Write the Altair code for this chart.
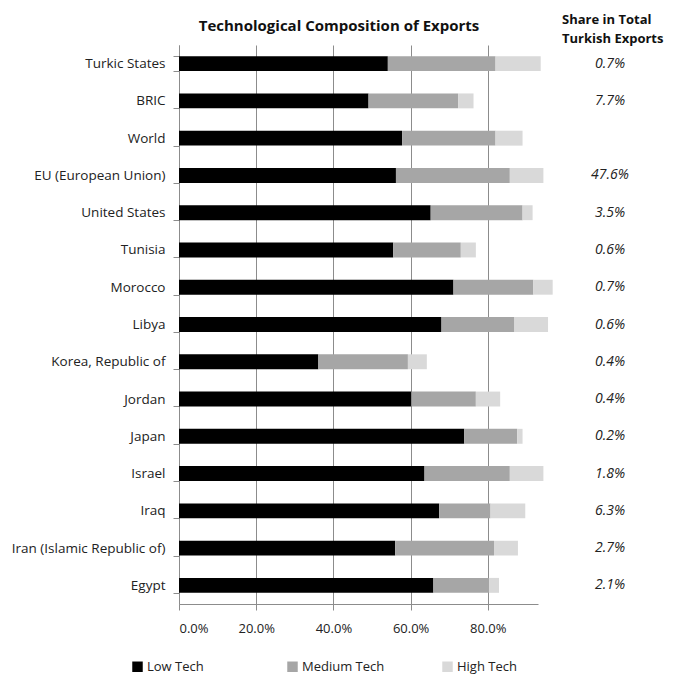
import altair as alt
import pandas as pd

countries = ["Turkic States", "BRIC", "World", "EU (European Union)", "United States",
             "Tunisia", "Morocco", "Libya", "Korea, Republic of", "Jordan", "Japan",
             "Israel", "Iraq", "Iran (Islamic  Republic of)", "Egypt"]
low_tech = [54.1, 49.1, 57.8, 56.2, 65.2, 55.5, 71.1, 68.0, 36.1, 60.2, 73.9, 63.6, 67.4, 56.0, 65.9]
medium_tech = [27.9, 23.2, 24.2, 29.5, 23.8, 17.5, 20.7, 18.9, 23.2, 16.7, 13.7, 22.1, 13.3, 25.6, 14.5]
high_tech = [11.7, 4.0, 7.0, 8.7, 2.6, 3.9, 5.0, 8.7, 4.9, 6.3, 1.4, 8.7, 9.0, 6.2, 2.5]
share_in_turkish_exports = [0.7, 7.7, None, 47.6, 3.5, 0.6, 0.7, 0.6, 0.4, 0.4, 0.2, 1.8, 6.3, 2.7, 2.1]
series = ["Low Tech", "Medium Tech", "High Tech"]
colors = ["#000000", "#a6a6a6", "#d9d9d9"]
x_ticks = [0, 0.2, 0.4, 0.6, 0.8]
title_text = "Technological Composition of Exports"
header_text = "Share in Total\nTurkish Exports"

rows = []
for i, c in enumerate(countries):
    for k, (s, vals) in enumerate(zip(series, [low_tech, medium_tech, high_tech])):
        rows.append({"country": c, "series": s, "order": k, "value": vals[i] / 100})
df = pd.DataFrame(rows)

share_df = pd.DataFrame({"country": countries, "share": share_in_turkish_exports}).dropna()
share_df["label"] = share_df["share"].map(lambda v: f"{v:.1f}%")

text_df = pd.DataFrame({"title": [title_text], "header": [header_text]})

FONT = "Open Sans"
W, H = 359, 559

y_enc = alt.Y("country:N", sort=countries,
              scale=alt.Scale(paddingInner=0.6, paddingOuter=0.3),
              axis=alt.Axis(title=None, tickBand="extent", tickSize=6, tickColor="#8c8c8c",
                            domainColor="#8c8c8c", labelFont=FONT, labelFontSize=13.5,
                            labelColor="#222222", labelPadding=8, grid=False, labelLimit=300))

bars = alt.Chart(df).mark_bar().encode(
    x=alt.X("value:Q", stack="zero",
            scale=alt.Scale(domain=[0, 0.93], nice=False),
            axis=alt.Axis(title=None, format=".1%", values=x_ticks, grid=True,
                          gridColor="#8c8c8c", tickSize=6, tickColor="#8c8c8c",
                          domainColor="#8c8c8c", labelFont=FONT, labelFontSize=13,
                          labelColor="#222222", labelPadding=12)),
    y=y_enc,
    color=alt.Color("series:N", sort=series,
                    scale=alt.Scale(domain=series, range=colors),
                    legend=alt.Legend(title=None, orient="none", direction="horizontal",
                                      legendX=-48, legendY=615, columns=3, gridAlign="all",
                                      columnPadding=56, symbolType="square", symbolSize=110,
                                      symbolStrokeWidth=0, labelFont=FONT, labelFontSize=13,
                                      labelColor="#222222", labelOffset=3)),
    order=alt.Order("order:Q"),
)

shares = alt.Chart(share_df).mark_text(font=FONT, fontSize=14, fontStyle="italic",
                                       color="#222222", align="center").encode(
    y=alt.Y("country:N", sort=countries),
    x=alt.value(431),
    text="label:N",
)

title = alt.Chart(text_df).mark_text(font=FONT, fontSize=15, fontWeight="bold", color="#111111",
                                     align="center", baseline="alphabetic").encode(
    x=alt.value(160), y=alt.value(-14), text="title:N")

header = alt.Chart(text_df).mark_text(font=FONT, fontSize=13, fontWeight="bold", color="#111111",
                                      align="left", baseline="alphabetic", lineBreak="\n",
                                      lineHeight=19).encode(
    x=alt.value(383), y=alt.value(-21), text="header:N")

chart = alt.layer(bars, shares, title, header).properties(
    width=W, height=H,
    autosize=alt.AutoSizeParams(type="none"),
    padding={"left": 171, "top": 37, "right": 130, "bottom": 73},
).configure_view(stroke=None)

chart.save("out.html", embed_options={"renderer": "svg", "actions": False})
